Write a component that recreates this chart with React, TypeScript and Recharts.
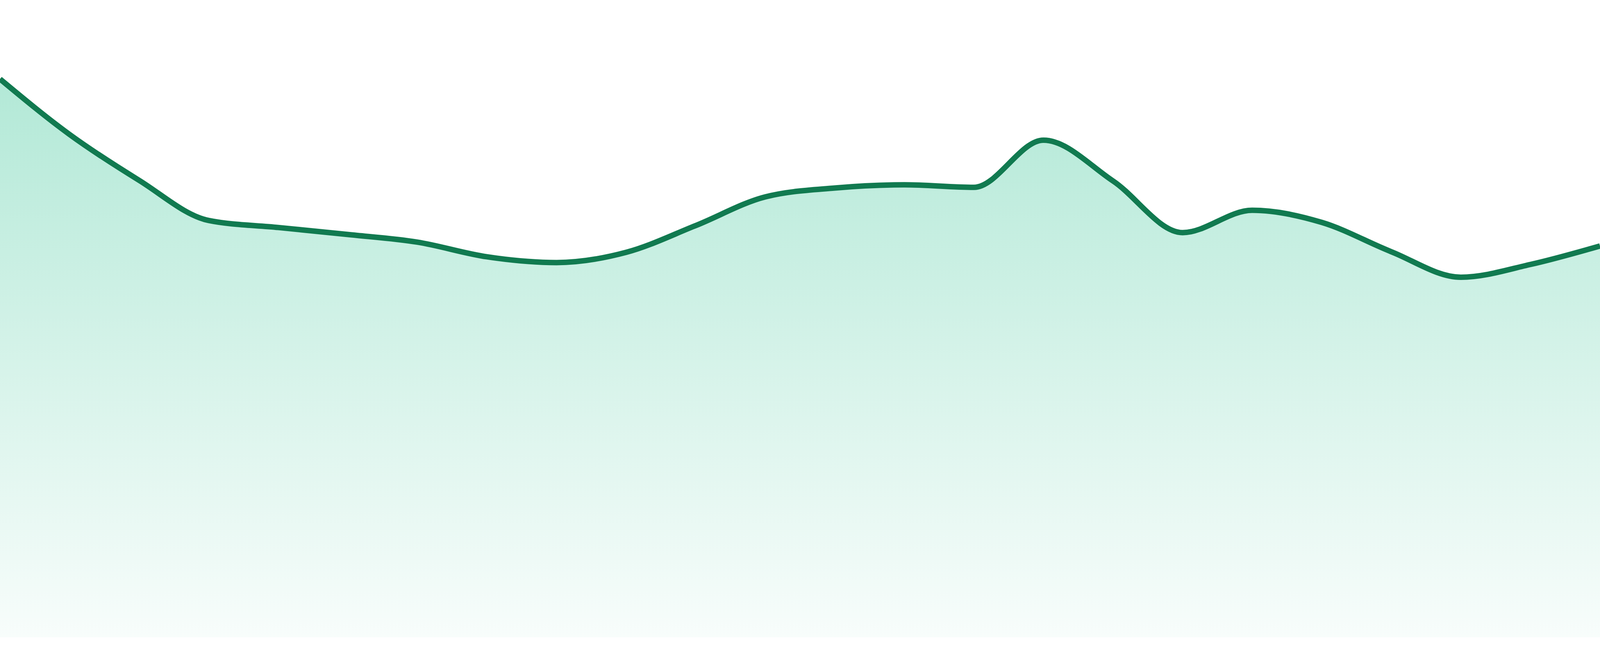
import React from 'react';
import { AreaChart, Area, XAxis, YAxis } from 'recharts';

// one value per step along the x axis (no labels are drawn)
const steps = [
  '01', '02', '03', '04', '05', '06', '07', '08', '09', '10', '11', '12',
  '13', '14', '15', '16', '17', '18', '19', '20', '21', '22', '23', '24',
];

const values = [
  87.6, 78.9, 71.7, 65.4, 64.3, 63.2, 62.0, 59.7, 58.8, 60.4, 64.6, 69.1,
  70.5, 71.0, 70.6, 78.0, 71.6, 63.5, 67.0, 65.1, 60.5, 56.5, 58.5, 61.4,
];

const data = steps.map((step, i) => ({ step, value: values[i] }));

// the browser window here is 4096px wide, so the chart fills that width
export default function App() {
  return (
    <div style={{ position: 'absolute', left: 0, top: 0, background: '#ffffff' }}>
      <AreaChart
        width={4096}
        height={1680}
        data={data}
        margin={{ top: 0, right: 0, left: 0, bottom: 48 }}
      >
        <defs>
          <linearGradient id="mintFade" x1="0" y1="0" x2="0" y2="1">
            <stop offset="0%" stopColor="#10b981" stopOpacity={0.32} />
            <stop offset="100%" stopColor="#10b981" stopOpacity={0.03} />
          </linearGradient>
        </defs>
        <XAxis dataKey="step" hide />
        <YAxis hide domain={[0, 100]} />
        <Area
          type="monotone"
          dataKey="value"
          stroke="#117a50"
          strokeWidth={14}
          fill="url(#mintFade)"
          fillOpacity={1}
          isAnimationActive={false}
          dot={false}
          activeDot={false}
        />
      </AreaChart>
    </div>
  );
}
